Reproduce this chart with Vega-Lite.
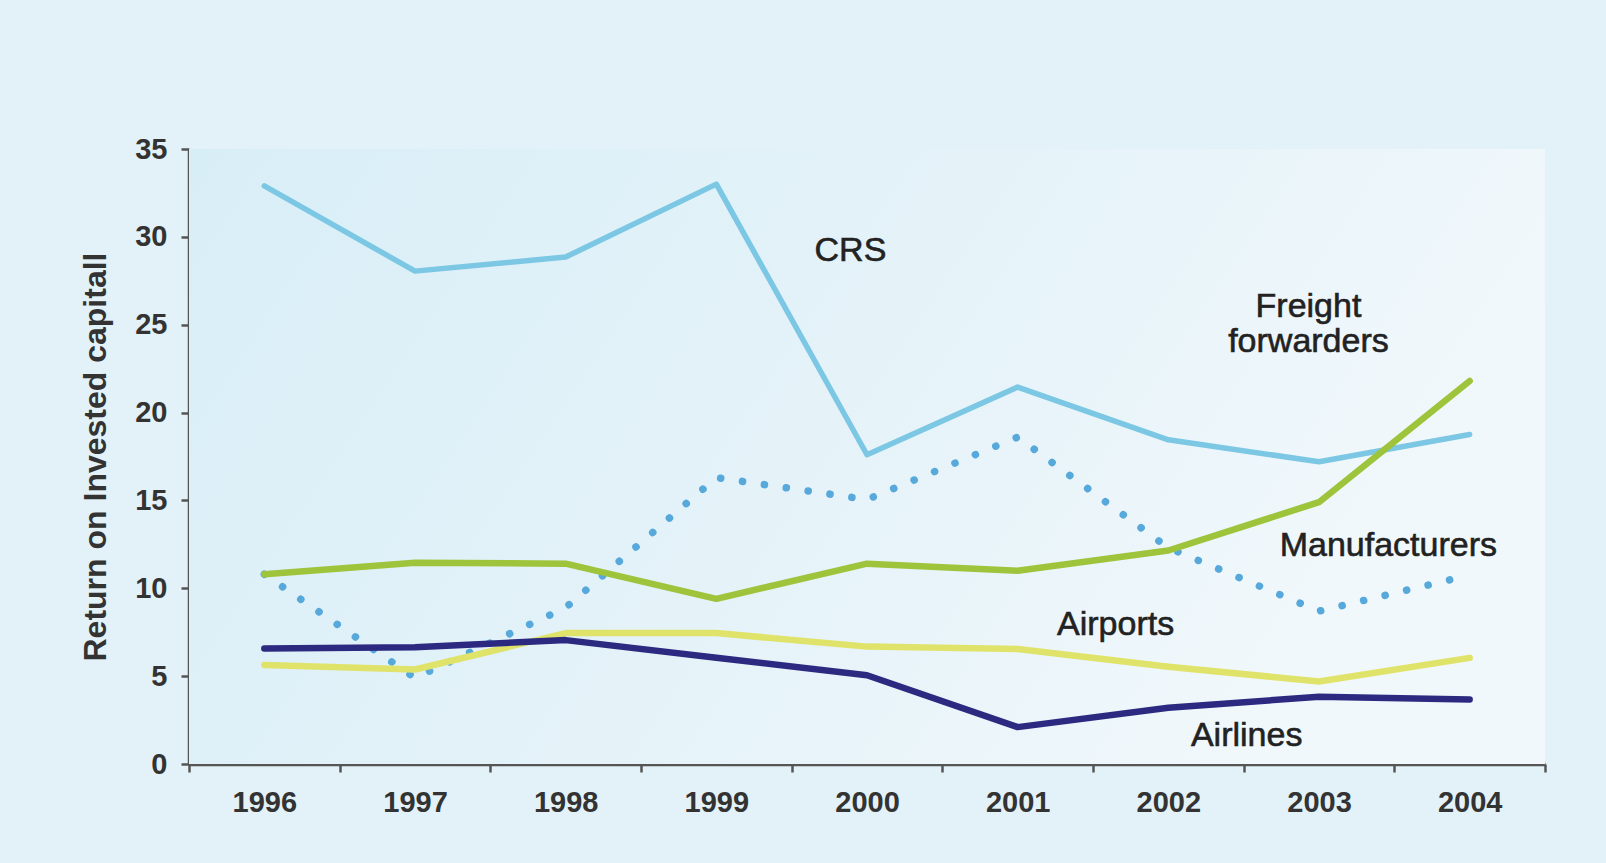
{
  "$schema": "https://vega.github.io/schema/vega-lite/v6.json",
  "autosize": {"type": "none"},
  "width": 1356,
  "height": 615,
  "padding": {"left": 189, "top": 149, "right": 61, "bottom": 99},
  "background": "#e3f2f8",
  "config": {
    "view": {"stroke": null},
    "font": "Liberation Sans"
  },
  "datasets": {
    "series": [
      {"year": "1996", "series": "CRS", "value": 32.9},
      {"year": "1997", "series": "CRS", "value": 28.05},
      {"year": "1998", "series": "CRS", "value": 28.85},
      {"year": "1999", "series": "CRS", "value": 33.0},
      {"year": "2000", "series": "CRS", "value": 17.6},
      {"year": "2001", "series": "CRS", "value": 21.45},
      {"year": "2002", "series": "CRS", "value": 18.45},
      {"year": "2003", "series": "CRS", "value": 17.2},
      {"year": "2004", "series": "CRS", "value": 18.75},
      {"year": "1996", "series": "Freight forwarders", "value": 10.8},
      {"year": "1997", "series": "Freight forwarders", "value": 4.9},
      {"year": "1998", "series": "Freight forwarders", "value": 8.9},
      {"year": "1999", "series": "Freight forwarders", "value": 16.3},
      {"year": "2000", "series": "Freight forwarders", "value": 15.05},
      {"year": "2001", "series": "Freight forwarders", "value": 18.6},
      {"year": "2002", "series": "Freight forwarders", "value": 12.3},
      {"year": "2003", "series": "Freight forwarders", "value": 8.7},
      {"year": "2004", "series": "Freight forwarders", "value": 10.75},
      {"year": "1996", "series": "Manufacturers", "value": 10.8},
      {"year": "1997", "series": "Manufacturers", "value": 11.45},
      {"year": "1998", "series": "Manufacturers", "value": 11.4},
      {"year": "1999", "series": "Manufacturers", "value": 9.4},
      {"year": "2000", "series": "Manufacturers", "value": 11.4},
      {"year": "2001", "series": "Manufacturers", "value": 11.0},
      {"year": "2002", "series": "Manufacturers", "value": 12.15},
      {"year": "2003", "series": "Manufacturers", "value": 14.9},
      {"year": "2004", "series": "Manufacturers", "value": 21.8},
      {"year": "1996", "series": "Airports", "value": 5.64},
      {"year": "1997", "series": "Airports", "value": 5.38},
      {"year": "1998", "series": "Airports", "value": 7.45},
      {"year": "1999", "series": "Airports", "value": 7.45},
      {"year": "2000", "series": "Airports", "value": 6.68},
      {"year": "2001", "series": "Airports", "value": 6.55},
      {"year": "2002", "series": "Airports", "value": 5.53},
      {"year": "2003", "series": "Airports", "value": 4.7},
      {"year": "2004", "series": "Airports", "value": 6.04},
      {"year": "1996", "series": "Airlines", "value": 6.57},
      {"year": "1997", "series": "Airlines", "value": 6.65},
      {"year": "1998", "series": "Airlines", "value": 7.05},
      {"year": "1999", "series": "Airlines", "value": 6.05},
      {"year": "2000", "series": "Airlines", "value": 5.05},
      {"year": "2001", "series": "Airlines", "value": 2.1},
      {"year": "2002", "series": "Airlines", "value": 3.2},
      {"year": "2003", "series": "Airlines", "value": 3.83},
      {"year": "2004", "series": "Airlines", "value": 3.67}
    ],
    "labels": [
      {"label": "CRS", "xpos": 1999.89, "ypos": 29.2},
      {"label": "Freight\nforwarders", "xpos": 2002.93, "ypos": 26.0},
      {"label": "Manufacturers", "xpos": 2003.46, "ypos": 12.42},
      {"label": "Airports", "xpos": 2001.65, "ypos": 7.92},
      {"label": "Airlines", "xpos": 2002.52, "ypos": 1.62}
    ],
    "bg": [{"k": 1}]
  },
  "layer": [
    {
      "data": {"name": "bg"},
      "mark": {
        "type": "rect",
        "color": {
          "gradient": "linear",
          "x1": 0, "y1": 0, "x2": 1, "y2": 0.3,
          "stops": [
            {"offset": 0, "color": "#d8eef7"},
            {"offset": 0.6, "color": "#e6f3f9"},
            {"offset": 1, "color": "#f1f8fb"}
          ]
        }
      },
      "encoding": {}
    },
    {
      "data": {"name": "series"},
      "encoding": {
        "x": {
          "field": "year", "type": "ordinal", "bandPosition": 0.5,
          "scale": {"type": "band", "paddingInner": 0, "paddingOuter": 0},
          "axis": {
            "title": null, "labelAngle": 0, "tickBand": "extent",
            "domainColor": "#555555", "domainWidth": 3.5,
            "tickColor": "#555555", "tickWidth": 2.5, "tickSize": 8,
            "labelFontSize": 29, "labelFontWeight": "bold", "labelColor": "#333333",
            "labelPadding": 16, "labelFont": "Liberation Sans"
          }
        },
        "y": {
          "field": "value", "type": "quantitative",
          "scale": {"domain": [0, 35], "nice": false, "zero": true},
          "axis": {
            "values": [0, 5, 10, 15, 20, 25, 30, 35],
            "grid": false,
            "title": "Return on Invested capitall",
            "titleFontSize": 32, "titleFontWeight": "bold", "titleColor": "#333333",
            "titleFont": "Liberation Sans", "titlePadding": 22,
            "domainColor": "#555555", "domainWidth": 3.5,
            "tickColor": "#555555", "tickWidth": 2.5, "tickSize": 8,
            "labelFontSize": 29, "labelFontWeight": "bold", "labelColor": "#333333",
            "labelPadding": 14, "labelFont": "Liberation Sans"
          }
        }
      },
      "layer": [
        {
          "transform": [{"filter": "datum.series === 'CRS'"}],
          "mark": {"type": "line", "strokeWidth": 5.5, "strokeCap": "round", "strokeJoin": "round", "color": "#7cc7e4"},
          "encoding": {}
        },
        {
          "transform": [{"filter": "datum.series === 'Freight forwarders'"}],
          "mark": {"type": "line", "strokeWidth": 7.5, "strokeCap": "round", "strokeDash": [0.1, 22], "color": "#56a9da"},
          "encoding": {}
        },
        {
          "transform": [{"filter": "datum.series !== 'Freight forwarders' && datum.series !== 'CRS'"}],
          "mark": {"type": "line", "strokeWidth": 6.5, "strokeCap": "round", "strokeJoin": "round"},
          "encoding": {
            "color": {
              "field": "series", "type": "nominal", "legend": null,
              "scale": {
                "domain": ["Manufacturers", "Airports", "Airlines"],
                "range": ["#9dc43b", "#e0e36a", "#2c2a80"]
              }
            },
            "detail": {"field": "series"}
          }
        }
      ]
    },
    {
      "data": {"name": "labels"},
      "mark": {
        "type": "text", "fontSize": 34, "font": "Liberation Sans", "color": "#222222",
        "stroke": "#222222", "strokeWidth": 0.6,
        "align": "center", "baseline": "middle", "lineBreak": "\n", "lineHeight": 35
      },
      "encoding": {
        "x": {"field": "xpos", "type": "quantitative", "scale": {"domain": [1995.5, 2004.5], "nice": false, "zero": false}, "axis": null},
        "y": {"field": "ypos", "type": "quantitative"},
        "text": {"field": "label"}
      }
    }
  ],
  "resolve": {"scale": {"x": "independent"}, "axis": {"x": "independent"}}
}
